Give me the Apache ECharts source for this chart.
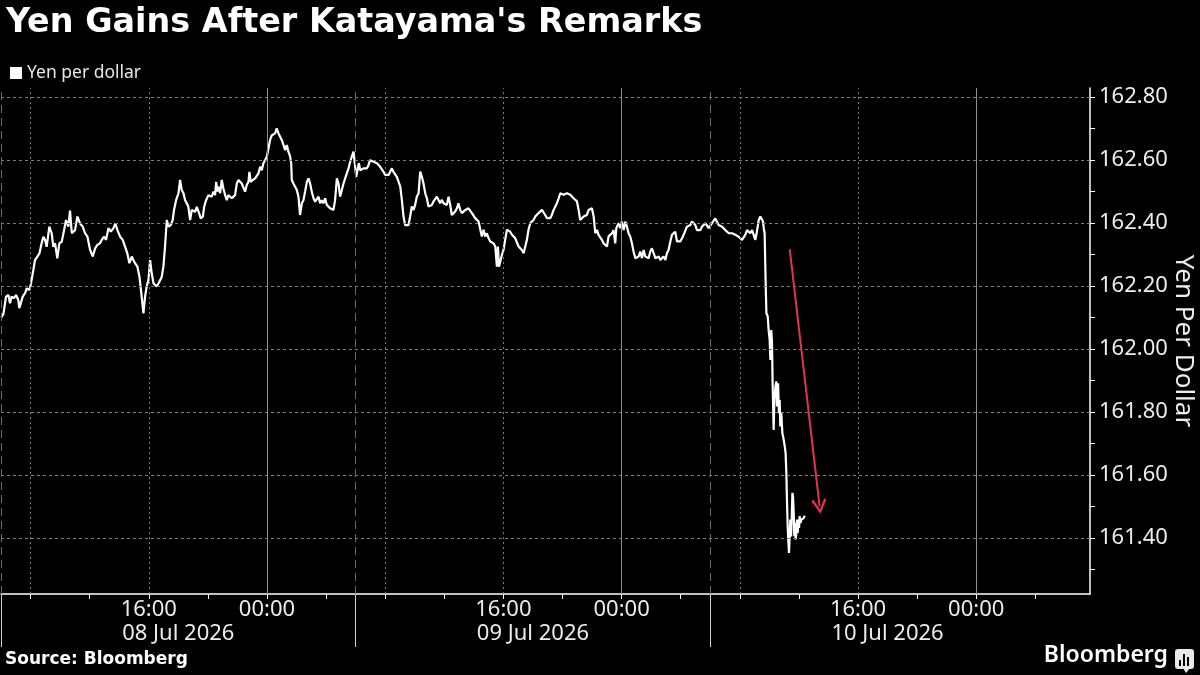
<!DOCTYPE html>
<html>
<head>
<meta charset="utf-8">
<script src="https://cdn.jsdelivr.net/npm/echarts@6/dist/echarts.min.js"></script>
<style>
html,body{margin:0;padding:0;background:#000;}
#chart{width:1200px;height:675px;}
</style>
</head>
<body>
<div id="chart"></div>
<script>
// ---- data (x = hours since 08 Jul 2026 00:00) ----
const priceHours = [
6.02,6.16,6.34,6.50,6.61,6.72,6.88,7.02,7.17,7.24,7.35,7.47,7.63,7.74,7.92,8.01,8.19,8.30,8.46,8.60,
8.75,8.87,8.98,9.09,9.27,9.43,9.54,9.66,9.81,9.95,10.11,10.27,10.40,10.56,10.67,10.79,10.90,11.01,11.17,11.35,
11.53,11.69,11.85,12.03,12.21,12.37,12.52,12.70,12.82,12.97,13.11,13.27,13.43,13.61,13.74,13.88,14.06,14.24,14.40,14.55,
14.69,14.85,14.96,15.07,15.23,15.37,15.52,15.64,15.75,15.86,15.98,16.09,16.20,16.32,16.43,16.54,16.72,16.88,16.99,17.10,
17.22,17.33,17.49,17.62,17.71,17.85,18.01,18.12,18.23,18.35,18.46,18.57,18.68,18.80,18.91,19.02,19.14,19.25,19.41,19.52,
19.66,19.75,19.88,20.04,20.15,20.26,20.38,20.49,20.56,20.65,20.71,20.83,20.94,21.05,21.17,21.28,21.39,21.50,21.62,21.73,
21.84,21.96,22.07,22.18,22.29,22.41,22.52,22.63,22.75,22.81,22.90,23.04,23.20,23.31,23.42,23.54,23.65,23.76,23.87,23.99,
24.10,24.21,24.33,24.44,24.55,24.66,24.78,24.89,25.00,25.12,25.23,25.34,25.45,25.57,25.64,25.68,25.79,25.91,26.02,26.13,
26.24,26.36,26.47,26.58,26.70,26.81,26.92,27.03,27.15,27.26,27.37,27.49,27.60,27.71,27.82,27.94,28.05,28.16,28.28,28.39,
28.50,28.61,28.73,28.84,28.95,29.07,29.18,29.29,29.40,29.52,29.63,29.74,29.86,29.97,30.04,30.13,30.22,30.31,30.42,30.53,
30.65,30.76,30.87,30.98,31.10,31.21,31.32,31.44,31.55,31.66,31.77,31.89,32.00,32.11,32.23,32.34,32.45,32.56,32.68,32.79,
32.90,33.02,33.13,33.24,33.35,33.47,33.58,33.69,33.80,33.92,34.03,34.14,34.26,34.37,34.48,34.59,34.71,34.82,34.93,35.05,
35.16,35.27,35.38,35.50,35.61,35.72,35.84,35.95,36.06,36.17,36.29,36.40,36.51,36.63,36.74,36.85,36.96,37.08,37.19,37.30,
37.42,37.53,37.64,37.75,37.87,37.98,38.09,38.21,38.32,38.43,38.54,38.66,38.77,38.88,39.00,39.11,39.22,39.33,39.45,39.56,
39.63,39.70,39.79,39.90,40.01,40.12,40.24,40.35,40.46,40.58,40.69,40.80,40.91,41.03,41.14,41.25,41.37,41.48,41.59,41.70,
41.82,41.93,42.04,42.16,42.27,42.38,42.49,42.61,42.72,42.83,42.95,43.06,43.17,43.28,43.40,43.51,43.62,43.74,43.85,43.96,
44.07,44.19,44.30,44.41,44.53,44.64,44.75,44.86,44.98,45.09,45.20,45.32,45.43,45.54,45.65,45.77,45.88,45.99,46.11,46.22,
46.33,46.44,46.56,46.67,46.78,46.90,47.01,47.12,47.23,47.35,47.46,47.57,47.64,47.73,47.80,47.91,48.02,48.14,48.25,48.36,
48.47,48.59,48.70,48.81,48.93,49.04,49.15,49.26,49.38,49.49,49.60,49.72,49.83,49.94,50.05,50.17,50.28,50.39,50.51,50.62,
50.73,50.84,50.96,51.07,51.18,51.30,51.41,51.52,51.63,51.75,51.86,51.97,52.09,52.20,52.31,52.42,52.54,52.65,52.76,52.88,
52.99,53.10,53.21,53.33,53.44,53.55,53.67,53.78,53.89,54.00,54.12,54.23,54.34,54.46,54.57,54.68,54.79,54.91,55.02,55.13,
55.25,55.36,55.47,55.58,55.70,55.81,55.92,56.04,56.15,56.26,56.37,56.49,56.60,56.71,56.83,56.94,57.05,57.12,57.21,57.28,
57.39,57.50,57.57,57.62,57.68,57.75,57.80,57.89,57.95,58.02,58.07,58.13,58.18,58.22,58.29,58.34,58.41,58.47,58.52,58.59,
58.65,58.70,58.74,58.81,58.88,58.97,59.04,59.10,59.15,59.19,59.24,59.29,59.33,59.38,59.42,59.47,59.51,59.56,59.60,59.65,
59.69,59.74,59.78,59.83,59.87,59.92,59.96,60.01,60.05,60.10,60.17,60.23,60.32,60.39
];
const priceValues = [
162.100,162.110,162.166,162.171,162.145,162.166,162.161,162.171,162.155,162.129,162.124,162.166,162.177,162.192,162.187,162.203,162.250,162.282,162.293,162.303,
162.335,162.356,162.346,162.324,162.388,162.367,162.324,162.335,162.287,162.335,162.340,162.377,162.409,162.388,162.439,162.367,162.361,162.377,162.420,162.398,
162.388,162.367,162.356,162.314,162.293,162.319,162.330,162.335,162.346,162.356,162.346,162.383,162.372,162.383,162.398,162.377,162.356,162.346,162.324,162.303,
162.272,162.293,162.282,162.272,162.261,162.229,162.166,162.113,162.166,162.198,162.219,162.282,162.240,162.208,162.203,162.198,162.213,162.229,162.261,162.324,
162.409,162.388,162.393,162.409,162.441,162.472,162.494,162.536,162.504,162.494,162.472,162.462,162.451,162.409,162.441,162.446,162.435,162.451,162.430,162.414,
162.420,162.451,162.472,162.488,162.488,162.483,162.499,162.488,162.530,162.499,162.515,162.494,162.536,162.509,162.488,162.472,162.488,162.483,162.478,162.472,
162.488,162.525,162.536,162.530,162.525,162.520,162.499,162.520,162.530,162.562,162.530,162.536,162.541,162.541,162.557,162.578,162.567,162.589,162.599,162.610,
162.636,162.663,162.678,162.673,162.684,162.700,162.684,162.673,162.663,162.647,162.631,162.647,162.626,162.610,162.589,162.536,162.525,162.530,162.504,162.483,
162.425,162.462,162.472,162.499,162.530,162.541,162.525,162.499,162.478,162.467,162.472,162.483,162.462,162.472,162.462,162.478,162.457,162.451,162.446,162.441,
162.441,162.472,162.541,162.525,162.483,162.478,162.525,162.541,162.546,162.573,162.594,162.610,162.626,162.620,162.546,162.552,162.589,162.567,162.567,162.573,
162.567,162.573,162.583,162.599,162.604,162.594,162.594,162.589,162.583,162.578,162.573,162.562,162.552,162.546,162.552,162.557,162.573,162.562,162.557,162.546,
162.541,162.515,162.472,162.420,162.393,162.388,162.393,162.420,162.452,162.441,162.457,162.483,162.494,162.563,162.547,162.526,162.494,162.478,162.452,162.457,
162.457,162.468,162.473,162.483,162.478,162.462,162.473,162.462,162.468,162.457,162.483,162.457,162.425,162.431,162.436,162.446,162.462,162.441,162.431,162.425,
162.441,162.436,162.446,162.441,162.431,162.425,162.415,162.420,162.404,162.399,162.357,162.378,162.357,162.367,162.351,162.341,162.346,162.335,162.325,162.261,
162.325,162.261,162.277,162.298,162.314,162.346,162.378,162.383,162.372,162.362,162.367,162.351,162.357,162.325,162.330,162.314,162.304,162.325,162.346,162.378,
162.399,162.404,162.409,162.420,162.425,162.431,162.436,162.441,162.436,162.425,162.415,162.420,162.415,162.425,162.441,162.436,162.462,162.478,162.494,162.499,
162.489,162.489,162.494,162.499,162.489,162.483,162.478,162.483,162.468,162.441,162.409,162.415,162.420,162.415,162.425,162.441,162.446,162.446,162.420,162.367,
162.378,162.362,162.357,162.346,162.335,162.341,162.325,162.357,162.362,162.367,162.377,162.335,162.383,162.377,162.399,162.383,162.404,162.377,162.404,162.388,
162.367,162.356,162.335,162.309,162.288,162.282,162.293,162.309,162.288,162.314,162.293,162.298,162.288,162.309,162.319,162.304,162.288,162.282,162.293,162.282,
162.288,162.293,162.282,162.304,162.314,162.341,162.362,162.367,162.372,162.341,162.346,162.341,162.351,162.362,162.367,162.388,162.383,162.393,162.404,162.409,
162.393,162.377,162.383,162.377,162.388,162.393,162.399,162.393,162.383,162.377,162.399,162.399,162.414,162.420,162.393,162.399,162.388,162.383,162.377,162.372,
162.367,162.372,162.367,162.362,162.362,162.356,162.356,162.351,162.346,162.346,162.362,162.377,162.372,162.367,162.377,162.372,162.346,162.362,162.388,162.409,
162.420,162.414,162.404,162.383,162.367,162.208,162.113,162.103,162.060,162.029,161.965,162.060,162.018,161.891,161.743,161.838,161.881,161.897,161.817,161.891,
161.796,161.838,161.754,161.796,161.733,161.712,161.691,161.669,161.606,161.522,161.437,161.384,161.352,161.416,161.458,161.405,161.458,161.543,161.532,161.479,
161.405,161.448,161.395,161.416,161.458,161.416,161.458,161.432,161.469,161.448,161.458,161.453,161.463,161.471
];

const seriesName = 'Yen per dollar';
const xMin = 6, xMax = 79.7;            // 08 Jul 06:00 .. 11 Jul ~07:40
const yMin = 161.222, yMax = 162.828;
const timeTickHours = [8,12,16,20,24,28,32,36,40,44,48,52,56,60,64,68,72,76];
const timeLabelHours = [16,24,40,48,64,72];
const dayBoundaryHours = [6,30,54];
const dayCenterHours = [18,42,66];
const dayLabels = ['08 Jul 2026','09 Jul 2026','10 Jul 2026'];
const dottedGridHours = [8,16,32,40,56,64];
const solidGridHours = [24,48,72];
const yTickValues = [161.3,161.4,161.5,161.6,161.7,161.8,161.9,162.0,162.1,162.2,162.3,162.4,162.5,162.6,162.7,162.8];
const yLabelValues = [161.4,161.6,161.8,162.0,162.2,162.4,162.6,162.8];
const arrowStart = [59.38, 162.316];
const arrowEnd = [61.40, 161.50];

const FONT = 'Noto Sans';
const chart = echarts.init(document.getElementById('chart'));

const gridMarks = []
  .concat(yLabelValues.map(v => ({ yAxis: v, lineStyle: { color: '#7d7d7d', type: [3, 3], width: 1 } })))
  .concat(dottedGridHours.map(h => ({ xAxis: h, lineStyle: { color: '#7d7d7d', type: [2, 3], width: 1 } })))
  .concat(solidGridHours.map(h => ({ xAxis: h, lineStyle: { color: '#8f8f8f', type: 'solid', width: 1 } })))
  .concat(dayBoundaryHours.map(h => ({ xAxis: h, lineStyle: { color: '#6a6a6a', type: [8, 5], width: 1 } })));

const option = {
  backgroundColor: '#000',
  animation: false,
  title: {
    text: "Yen Gains After Katayama's Remarks",
    left: 1, top: 2,
    textStyle: { color: '#fff', fontFamily: 'DejaVu Sans', fontWeight: 'bold', fontSize: 33.4 }
  },
  legend: {
    data: [seriesName],
    left: 5, top: 59,
    icon: 'rect', itemWidth: 12, itemHeight: 12, itemGap: 4,
    textStyle: { color: '#e6e6e6', fontFamily: FONT, fontSize: 17.5, padding: [0, 0, 0, 0] }
  },
  grid: { left: 1, right: 110, top: 88, bottom: 81, containLabel: false, outerBoundsMode: 'none' },
  xAxis: [
    {
      type: 'value', min: xMin, max: xMax, position: 'bottom',
      axisLine: { show: true, lineStyle: { color: '#fff', width: 1.5 } },
      axisTick: { show: true, customValues: timeTickHours, length: 5, lineStyle: { color: '#fff', width: 1 } },
      axisLabel: {
        show: true, customValues: timeLabelHours, margin: 5,
        color: '#ececec', fontFamily: FONT, fontSize: 22,
        formatter: v => String(Math.round(v) % 24).padStart(2, '0') + ':00'
      },
      splitLine: { show: false }
    },
    {
      type: 'value', min: xMin, max: xMax, position: 'bottom',
      axisLine: { show: false },
      axisTick: { show: true, customValues: dayBoundaryHours, length: 53, lineStyle: { color: '#d0d0d0', width: 1 } },
      axisLabel: {
        show: true, customValues: dayCenterHours, margin: 29,
        color: '#ececec', fontFamily: FONT, fontSize: 22,
        formatter: v => dayLabels[dayCenterHours.indexOf(Math.round(v))]
      },
      splitLine: { show: false }
    }
  ],
  yAxis: {
    type: 'value', position: 'right', min: yMin, max: yMax,
    axisLine: { show: true, lineStyle: { color: '#fff', width: 1.5 } },
    axisTick: { show: true, customValues: yTickValues, length: 5, inside: false, lineStyle: { color: '#fff', width: 1 } },
    axisLabel: {
      show: true, customValues: yLabelValues, margin: 9,
      color: '#ececec', fontFamily: FONT, fontSize: 22,
      formatter: v => Number(v).toFixed(2)
    },
    splitLine: { show: false },
    name: 'Yen Per Dollar', nameLocation: 'middle', nameRotate: -90, nameGap: 80,
    nameMoveOverlap: false,
    nameTextStyle: { color: '#ececec', fontFamily: FONT, fontSize: 26 }
  },
  series: [
    {
      name: 'grid', type: 'line', data: [], z: 1, silent: true,
      markLine: { silent: true, symbol: 'none', label: { show: false }, animation: false, data: gridMarks }
    },
    {
      name: seriesName, type: 'line', z: 3,
      data: priceHours.map((h, i) => [h, priceValues[i]]),
      showSymbol: false, symbol: 'none',
      itemStyle: { color: '#fff' },
      lineStyle: { color: '#fff', width: 2.2 }
    },
    {
      name: 'arrow', type: 'line', data: [], z: 5, silent: true,
      markLine: {
        silent: true, animation: false,
        symbol: ['none', 'path://M6,0 L12,11 L10.4,12.2 L6,3.6 L1.6,12.2 L0,11 Z'],
        symbolSize: [15, 15],
        label: { show: false },
        itemStyle: { color: '#e3344f' },
        lineStyle: { color: '#e3344f', width: 2, type: 'solid' },
        data: [[{ coord: arrowStart }, { coord: arrowEnd }]]
      }
    }
  ],
  graphic: [
    { type: 'text', left: 5, top: 651, style: { text: 'Source: Bloomberg', fill: '#fff', font: 'bold 17px "DejaVu Sans"' } },
    { type: 'text', right: 32, top: 644, style: { text: 'Bloomberg', fill: '#fff', font: '600 23px "Noto Sans"' } },
    { type: 'rect', right: 6, top: 649, shape: { width: 19, height: 20, r: 3 }, style: { fill: '#e8e8e8' } },
    { type: 'polygon', shape: { points: [[1183, 668], [1190, 668], [1186, 673]] }, style: { fill: '#e8e8e8' } },
    { type: 'rect', shape: { x: 1179, y: 660, width: 2, height: 6 }, style: { fill: '#000' } },
    { type: 'rect', shape: { x: 1183, y: 654, width: 2, height: 12 }, style: { fill: '#000' } },
    { type: 'rect', shape: { x: 1187, y: 657, width: 2, height: 9 }, style: { fill: '#000' } }
  ]
};
chart.setOption(option);
</script>
</body>
</html>
